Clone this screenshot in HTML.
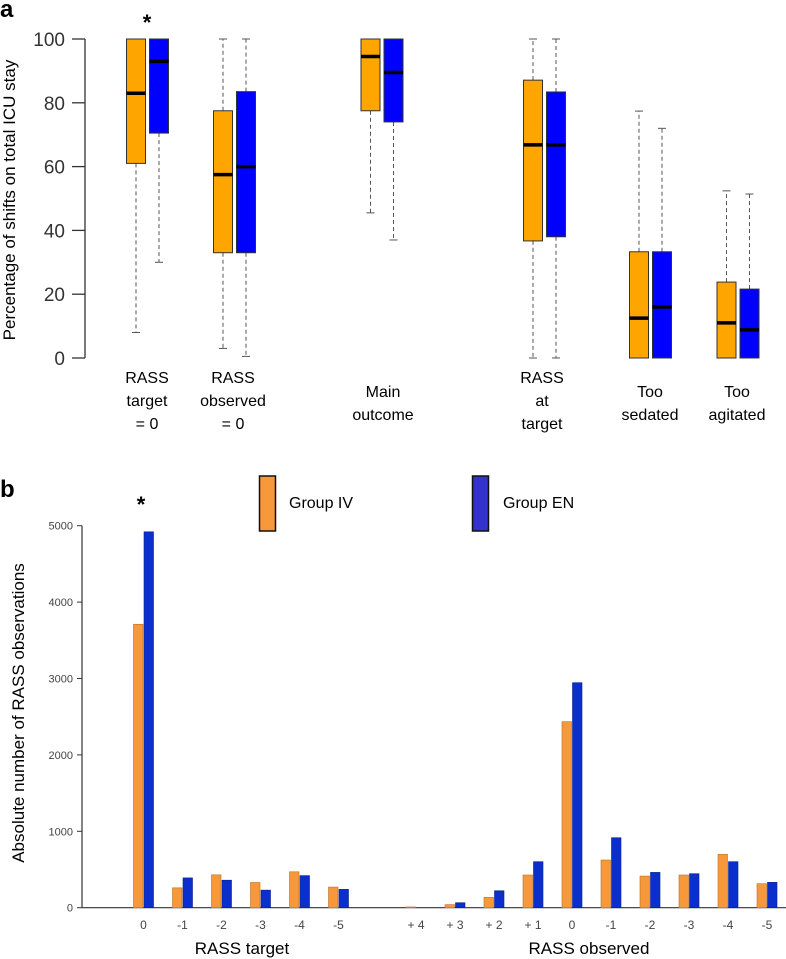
<!DOCTYPE html>
<html><head><meta charset="utf-8"><style>
html,body{margin:0;padding:0;background:#fff;}
svg{display:block;font-family:"Liberation Sans",sans-serif;}
</style></head><body>
<svg id="chart" width="786" height="959" viewBox="0 0 786 959" xmlns="http://www.w3.org/2000/svg">
<g id="pa"></g>
<g id="pb"></g>
</svg>
<script>
// ---- Panel a data ----
const boxCategories = ["RASS target = 0","RASS observed = 0","Main outcome","RASS at target","Too sedated","Too agitated"];
const ivLow  = [8, 3, 45.5, 0, 0, 0];
const ivQ1   = [61, 33, 77.5, 36.7, 0, 0];
const ivMed  = [83, 57.5, 94.5, 66.8, 12.5, 11];
const ivQ3   = [100, 77.5, 100, 87.1, 33.3, 23.8];
const ivHigh = [100, 100, 100, 100, 77.4, 52.4];
const enLow  = [30, 0.5, 37, 0, 0, 0];
const enQ1   = [70.5, 33, 74, 38, 0, 0];
const enMed  = [93, 60, 89.5, 66.8, 16, 8.8];
const enQ3   = [100, 83.5, 100, 83.4, 33.3, 21.6];
const enHigh = [100, 100, 100, 100, 72, 51.4];
const pctTicks = [0, 20, 40, 60, 80, 100];
// ---- Panel b data ----
const targetCats = ["0","-1","-2","-3","-4","-5"];
const targetIV = [3710, 260, 430, 330, 470, 270];
const targetEN = [4920, 390, 360, 230, 420, 240];
const obsCats = ["+ 4","+ 3","+ 2","+ 1","0","-1","-2","-3","-4","-5"];
const obsIV = [10, 40, 135, 428, 2435, 624, 414, 428, 698, 314];
const obsEN = [0, 65, 222, 602, 2945, 916, 462, 445, 602, 332];
const countTicks = [0, 1000, 2000, 3000, 4000, 5000];

const NS = "http://www.w3.org/2000/svg";
function mk(parent, tag, attrs, text){
  const e = document.createElementNS(NS, tag);
  for (const k in attrs) e.setAttribute(k, attrs[k]);
  if (text !== undefined) e.textContent = text;
  parent.appendChild(e); return e;
}
const pa = document.getElementById('pa');
const pb = document.getElementById('pb');

// ===== Panel a =====
const yA = v => 358 - v * 3.19;
const boxCenters = [147.5, 234.5, 382, 544.5, 650.5, 738];
const boxW = 19, boxOff = 11.5;

let t = mk(pa,'text',{x:0,y:17,'font-size':24,'font-weight':'bold'},'a');


t = mk(pa,'text',{x:147,y:30,'font-size':22,'font-weight':'bold','text-anchor':'middle'},'*');


let ax = mk(pa,'line',{x1:85,y1:yA(0),x2:85,y2:yA(100),stroke:'#333','stroke-width':1.3});


pctTicks.forEach(v=>{
  const l = mk(pa,'line',{x1:72,y1:yA(v),x2:85,y2:yA(v),stroke:'#333','stroke-width':1.3});
  
  
  const tx = mk(pa,'text',{x:65,y:yA(v)+7,'font-size':19,'text-anchor':'end',fill:'#333'},String(v));
  
  
});
t = mk(pa,'text',{x:15,y:200,'font-size':17,'text-anchor':'middle',transform:'rotate(-90 15 200)'},'Percentage of shifts on total ICU stay');



function drawBox(cx, lo, q1, md, q3, hi, fill, name){
  const g = mk(pa,'g',{});
  
  
  const x0 = cx - boxW/2;
  if (hi > q3) mk(g,'line',{x1:cx,y1:yA(q3),x2:cx,y2:yA(hi),stroke:'#555','stroke-dasharray':'4,3'});
  if (lo < q1) mk(g,'line',{x1:cx,y1:yA(q1),x2:cx,y2:yA(lo),stroke:'#555','stroke-dasharray':'4,3'});
  mk(g,'line',{x1:cx-4,y1:yA(hi),x2:cx+4,y2:yA(hi),stroke:'#555'});
  mk(g,'line',{x1:cx-4,y1:yA(lo),x2:cx+4,y2:yA(lo),stroke:'#555'});
  mk(g,'rect',{x:x0,y:yA(q3),width:boxW,height:yA(q1)-yA(q3),fill:fill,stroke:'#333','stroke-width':1});
  mk(g,'line',{x1:x0,y1:yA(md),x2:x0+boxW,y2:yA(md),stroke:'#000','stroke-width':3.5});
}
boxCategories.forEach((c,i)=>{
  drawBox(boxCenters[i]-boxOff, ivLow[i], ivQ1[i], ivMed[i], ivQ3[i], ivHigh[i], '#ffa500', 'box-iv-'+(i+1));
  drawBox(boxCenters[i]+boxOff, enLow[i], enQ1[i], enMed[i], enQ3[i], enHigh[i], '#0000ff', 'box-en-'+(i+1));
});
const catLabels = [["RASS","target","= 0"],["RASS","observed","= 0"],["Main","outcome"],["RASS","at","target"],["Too","sedated"],["Too","agitated"]];
const catLabelX = [147, 233, 383, 542, 650, 737];
catLabels.forEach((lines,i)=>{
  const startY = lines.length===2 ? 397 : 383;
  const tx = mk(pa,'text',{'font-size':16,'text-anchor':'middle'});
  
  
  lines.forEach((s,j)=>mk(tx,'tspan',{x:catLabelX[i],y:startY+j*23},s));
});

// ===== Panel b =====
const yB = v => 907.7 - v * 0.0764;
t = mk(pb,'text',{x:0,y:497,'font-size':24,'font-weight':'bold'},'b');


t = mk(pb,'text',{x:141,y:512,'font-size':22,'font-weight':'bold','text-anchor':'middle'},'*');



let lg = mk(pb,'g',{});  
mk(lg,'rect',{x:259.5,y:476,width:16,height:55,fill:'#f7983a',stroke:'#111','stroke-width':1.5});
mk(lg,'text',{x:289,y:508,'font-size':16},'Group IV');
lg = mk(pb,'g',{});  
mk(lg,'rect',{x:472.5,y:476,width:16,height:55,fill:'#3333cc',stroke:'#111','stroke-width':1.5});
mk(lg,'text',{x:503,y:508,'font-size':16},'Group EN');

ax = mk(pb,'line',{x1:82,y1:yB(0),x2:82,y2:yB(5000),stroke:'#333','stroke-width':1.2});


ax = mk(pb,'line',{x1:82,y1:yB(0),x2:786,y2:yB(0),stroke:'#333','stroke-width':1.2});


countTicks.forEach(v=>{
  const l = mk(pb,'line',{x1:77,y1:yB(v),x2:82,y2:yB(v),stroke:'#333'});
  
  
  const tx = mk(pb,'text',{x:73,y:yB(v)+4,'font-size':11,'text-anchor':'end',fill:'#444'},String(v));
  
  
});
t = mk(pb,'text',{x:24,y:713,'font-size':17,'text-anchor':'middle',transform:'rotate(-90 24 713)'},'Absolute number of RASS observations');



const bw = 9.5;
function drawPair(cx, a, b, label, idx, grp){
  const r1 = mk(pb,'rect',{x:cx-bw-0.5,y:yB(a),width:bw,height:yB(0)-yB(a),fill:'#f7983a',stroke:'#b86f2a','stroke-width':0.6});
  
  
  if (b > 0) {
    const r2 = mk(pb,'rect',{x:cx+0.5,y:yB(b),width:bw,height:yB(0)-yB(b),fill:'#0a2fcc',stroke:'#0a1f8a','stroke-width':0.6});
    
    
  }
  const tx = mk(pb,'text',{x:cx,y:929,'font-size':12,'text-anchor':'middle',fill:'#444'},label);
  
  
}
targetCats.forEach((c,i)=>drawPair(143.5 + i*39, targetIV[i], targetEN[i], c, i, 'target'));
obsCats.forEach((c,i)=>drawPair(416 + i*39, obsIV[i], obsEN[i], c, i, 'observed'));
t = mk(pb,'text',{x:242,y:954,'font-size':17,'text-anchor':'middle'},'RASS target');


t = mk(pb,'text',{x:589,y:954,'font-size':17,'text-anchor':'middle'},'RASS observed');


</script>
</body></html>
